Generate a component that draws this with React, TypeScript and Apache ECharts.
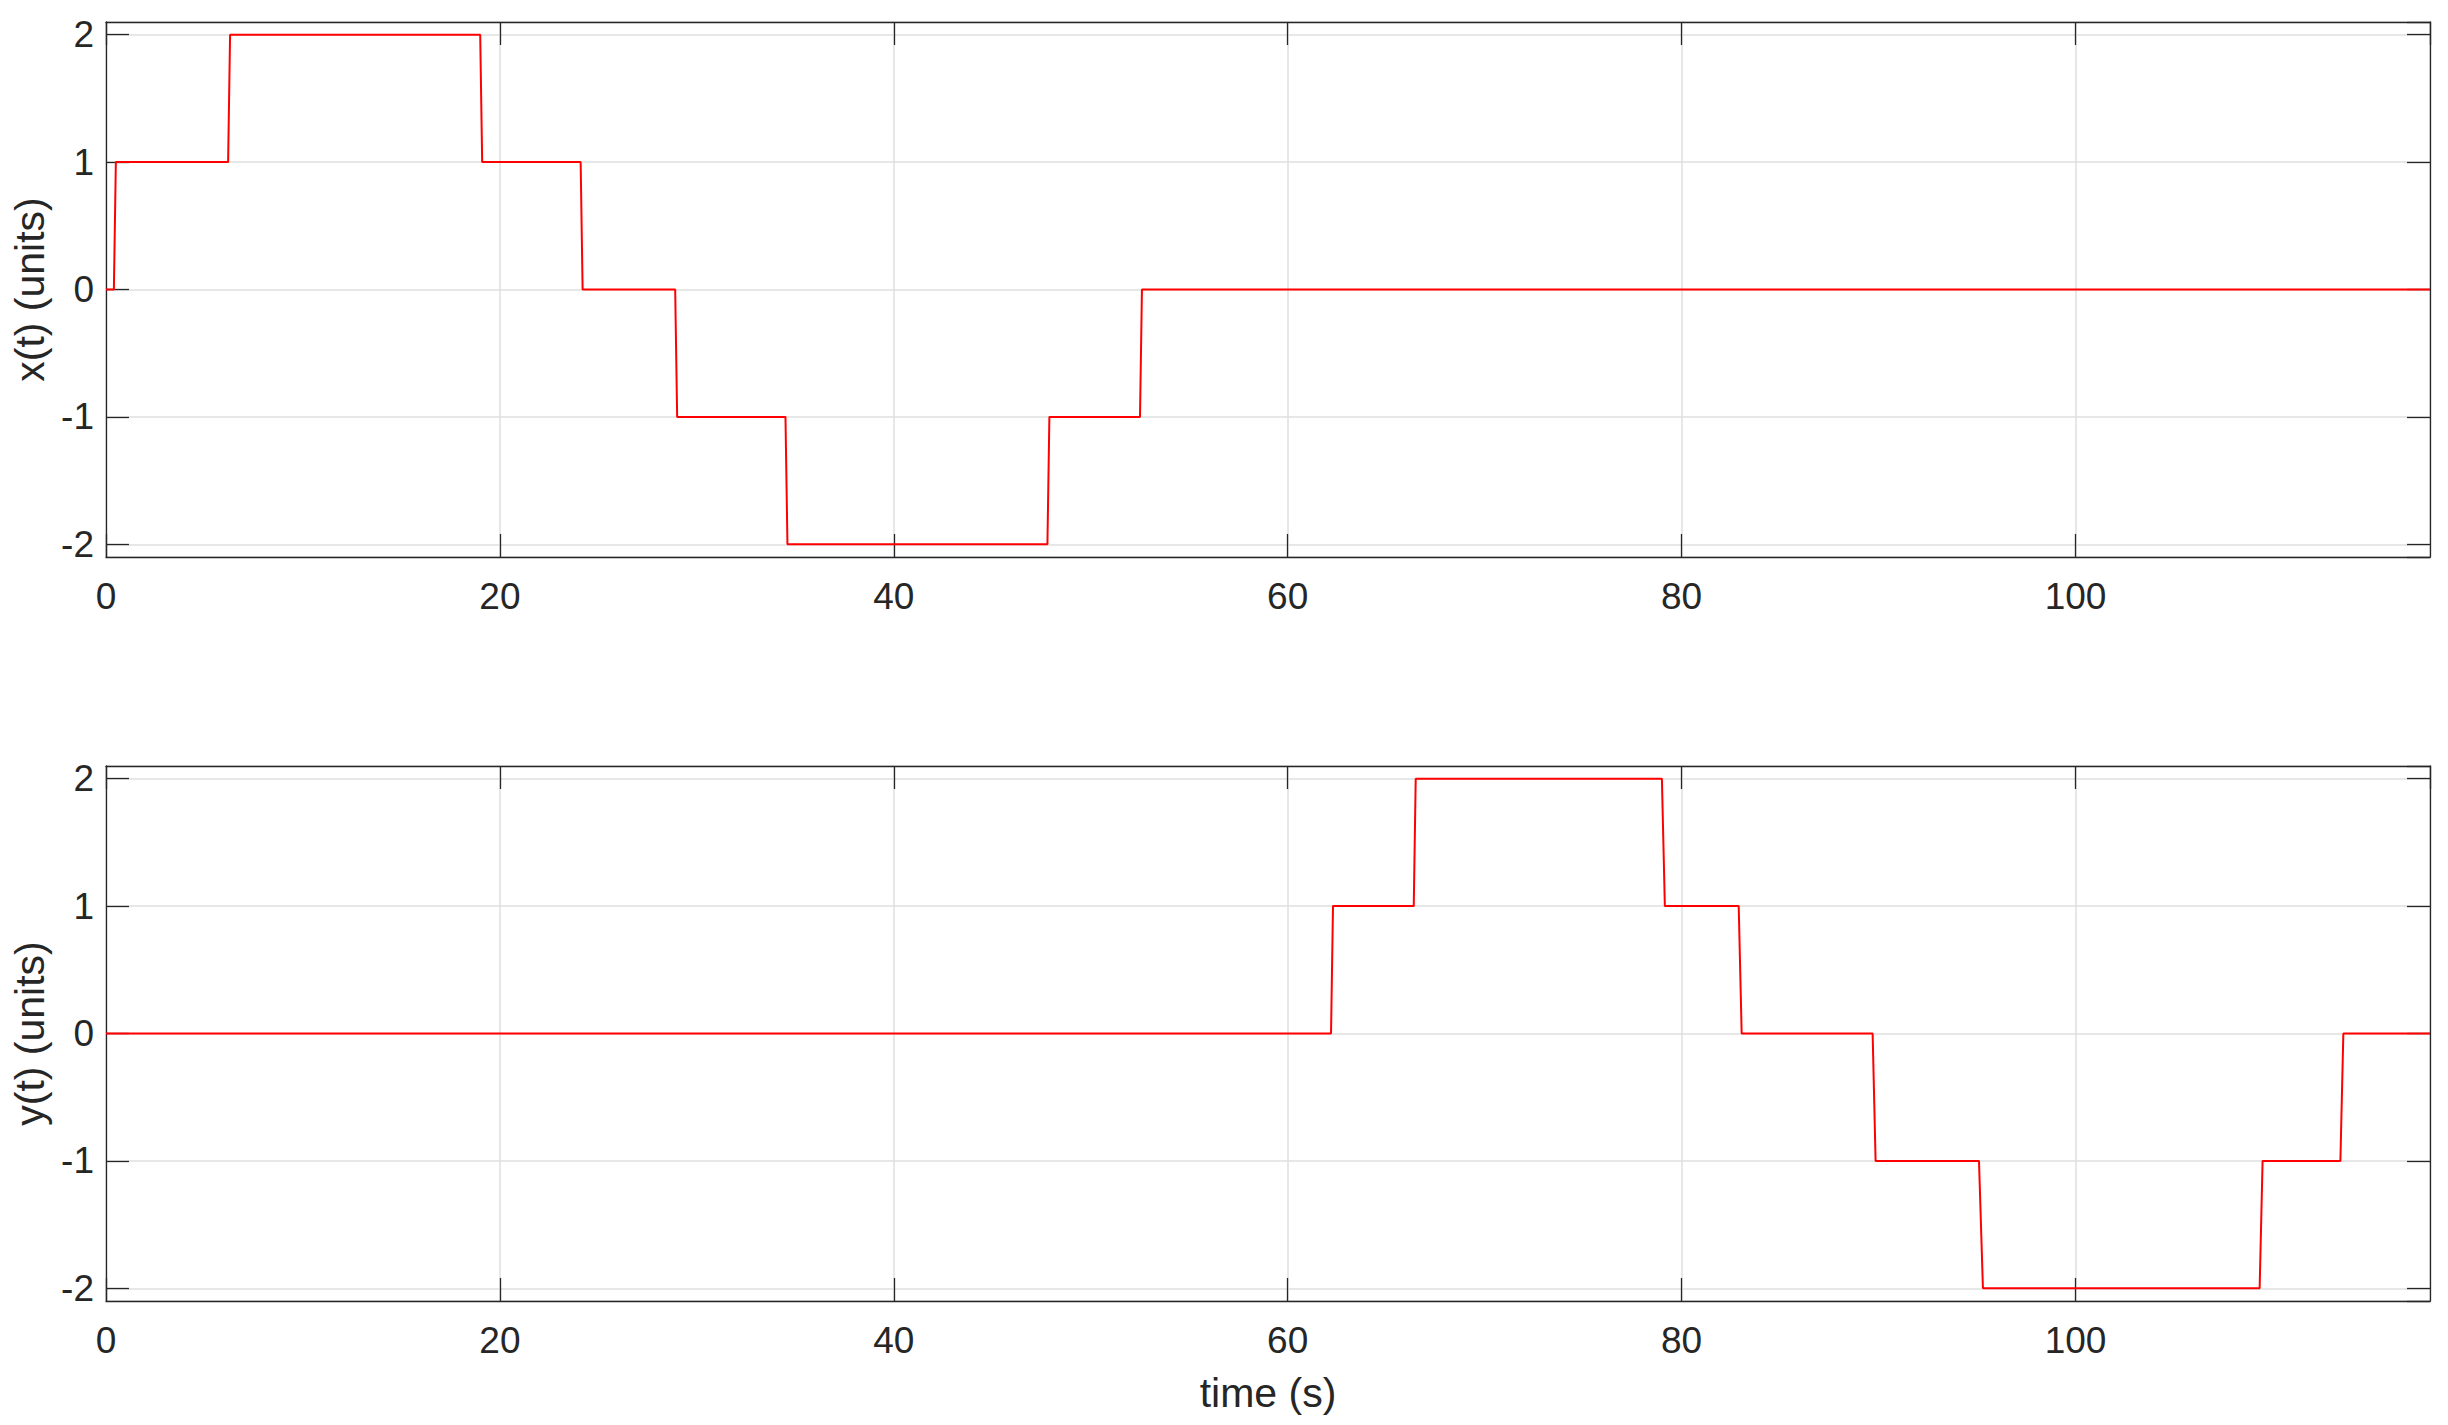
import React, { useEffect, useRef } from "react";
import * as echarts from "echarts";

// Step signals: [time (s), value]
const xSignal: [number, number][] = [
  [0, 0], [0.4, 0], [0.5, 1], [6.2, 1], [6.3, 2], [19.0, 2], [19.1, 1],
  [24.1, 1], [24.2, 0], [28.9, 0], [29.0, -1], [34.5, -1], [34.6, -2],
  [47.8, -2], [47.9, -1], [52.5, -1], [52.6, 0], [118, 0],
];
const ySignal: [number, number][] = [
  [0, 0], [62.2, 0], [62.3, 1], [66.4, 1], [66.5, 2], [79.0, 2], [79.15, 1],
  [82.9, 1], [83.05, 0], [89.7, 0], [89.85, -1], [95.1, -1], [95.3, -2],
  [109.35, -2], [109.5, -1], [113.45, -1], [113.6, 0], [118, 0],
];
const timeRange = [0, 118];
const timeStep = 20;
const valueRange = [-2.1, 2.1];
const labels = { x: "x(t) (units)", y: "y(t) (units)", time: "time (s)" };

const FONT = "'Liberation Sans', Arial, Helvetica, sans-serif";
const INK = "#262626";
const GRID = "#dfdfdf";

function App() {
  const ref = useRef<HTMLDivElement>(null);
  useEffect(() => {
    if (!ref.current) return;
    const chart = echarts.init(ref.current, null, { renderer: "svg" });
    const axisLine = { show: true, onZero: false, lineStyle: { color: INK, width: 1.3 } };
    const axisTick = { show: true, inside: true, length: 23, lineStyle: { color: INK, width: 1.3 } };
    const tickFmt = (v: number) => (Math.abs(v - Math.round(v)) < 1e-9 ? String(Math.round(v)) : "");
    const xFmt = (v: number) => (Math.abs(v % timeStep) < 1e-9 ? String(v) : "");

    const mkX = (grid: number, withName: boolean) => [
      {
        type: "value", gridIndex: grid, position: "bottom",
        min: timeRange[0], max: timeRange[1], interval: timeStep,
        axisLine, axisTick,
        axisLabel: { color: INK, fontSize: 37, fontFamily: FONT, margin: 21, formatter: xFmt, showMaxLabel: false },
        splitLine: { show: true, lineStyle: { color: GRID, width: 1.5 } },
        name: withName ? labels.time : "",
        nameLocation: "middle", nameGap: 71,
        nameTextStyle: { color: INK, fontSize: 41, fontFamily: FONT },
      },
      {
        type: "value", gridIndex: grid, position: "top",
        min: timeRange[0], max: timeRange[1], interval: timeStep,
        axisLine, axisTick, axisLabel: { show: false }, splitLine: { show: false },
      },
    ];
    const mkY = (grid: number, name: string) => [
      {
        type: "value", gridIndex: grid, position: "left",
        min: valueRange[0], max: valueRange[1], splitNumber: 4,
        axisLine, axisTick,
        axisLabel: { color: INK, fontSize: 37, fontFamily: FONT, margin: 12, formatter: tickFmt, showMinLabel: false, showMaxLabel: false },
        splitLine: { show: true, lineStyle: { color: GRID, width: 1.5 } },
        name, nameLocation: "middle", nameGap: 52,
        nameTextStyle: { color: INK, fontSize: 41, fontFamily: FONT },
      },
      {
        type: "value", gridIndex: grid, position: "right",
        min: valueRange[0], max: valueRange[1], splitNumber: 4,
        axisLine, axisTick, axisLabel: { show: false }, splitLine: { show: false },
      },
    ];

    chart.setOption({
      animation: false,
      backgroundColor: "#ffffff",
      grid: [
        { left: 106, right: 18, top: 22, height: 535 },
        { left: 106, right: 18, top: 766, height: 535 },
      ],
      xAxis: [...mkX(0, false), ...mkX(1, true)],
      yAxis: [...mkY(0, labels.x), ...mkY(1, labels.y)],
      series: [
        {
          type: "line", xAxisIndex: 0, yAxisIndex: 0, data: xSignal,
          showSymbol: false, lineStyle: { color: "#ff0000", width: 2 }, z: 5,
        },
        {
          type: "line", xAxisIndex: 2, yAxisIndex: 2, data: ySignal,
          showSymbol: false, lineStyle: { color: "#ff0000", width: 2 }, z: 5,
        },
      ],
    });
    return () => chart.dispose();
  }, []);
  return (
    <div
      ref={ref}
      style={{ position: "fixed", left: 0, top: 0, width: 2448, height: 1425, background: "#fff" }}
    />
  );
}

export default App;
